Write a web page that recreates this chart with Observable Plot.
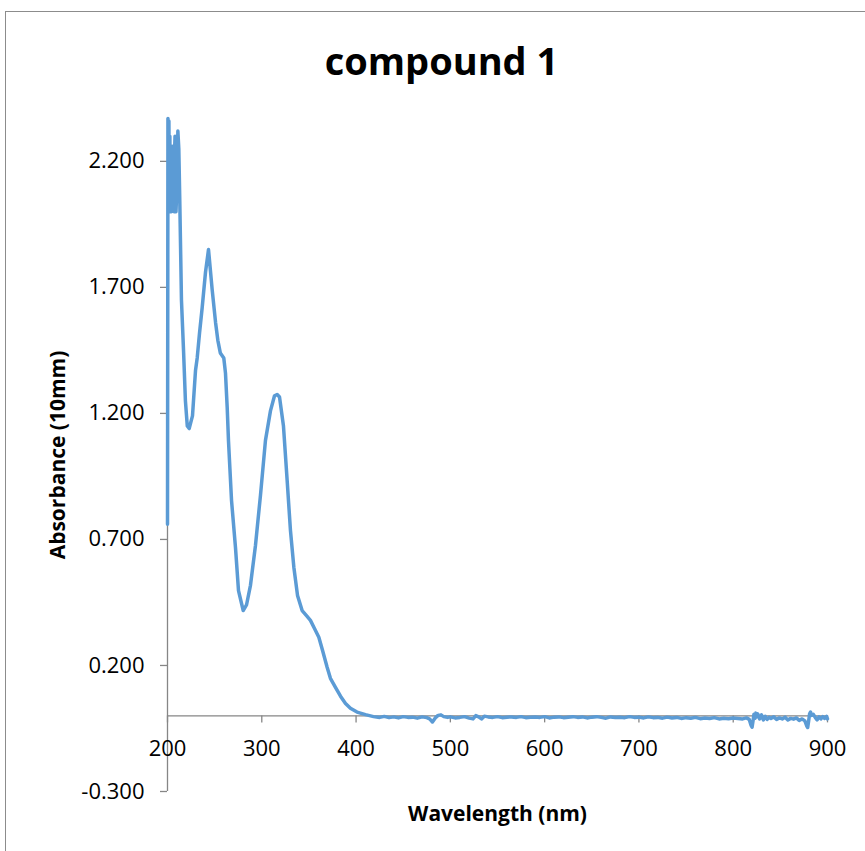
<!DOCTYPE html>
<html>
<head>
<meta charset="utf-8">
<script src="https://cdn.jsdelivr.net/npm/d3@7"></script>
<script src="https://cdn.jsdelivr.net/npm/@observablehq/plot@0.6"></script>
<style>
  html, body { margin: 0; padding: 0; background: #fff; overflow: hidden; }
  #wrap { position: relative; width: 865px; height: 851px; overflow: hidden; font-family: "Open Sans", sans-serif; }
  #frame { position: absolute; left: 5px; top: 11px; width: 900px; height: 900px; border: 1px solid #8c8c8c; box-sizing: border-box; }
  #title { position: absolute; top: 37px; left: 0; width: 883px; text-align: center; font: bold 38px "Open Sans", sans-serif; line-height: 46px; color: #000; }
  #chart { position: absolute; left: 0; top: 100px; }
</style>
</head>
<body>
<div id="wrap">
  <div id="frame"></div>
  <div id="title">compound 1</div>
  <div id="chart"></div>
</div>
<script>
const title = "compound 1";
const xLabel = "Wavelength (nm)";
const yLabel = "Absorbance (10mm)";
const xTicks = [200, 300, 400, 500, 600, 700, 800, 900];
const yTicks = [-0.3, 0.2, 0.7, 1.2, 1.7, 2.2];

const wavelength = [
  200, 200.5, 201, 201.5, 202, 202.5, 203, 203.5, 204, 204.5, 205, 205.5, 206, 206.5, 207, 207.5, 208, 208.5, 209, 210, 211, 212, 213,
  214.8, 217, 219, 221, 223, 226.5, 229.7, 231.5, 234, 236.8, 240.3, 243.5, 247.4, 251, 253.4, 256, 259.7, 261.5, 263.3, 264.7,
  267.9, 272.1, 275.3, 280.3, 283.8, 288, 293.3, 298.6, 303.9, 309.2, 313.5, 316.3, 318.8, 323, 326.9, 330.4, 334, 337.9, 342.8,
  347.4, 351.6, 355.9, 360.5, 364.4, 369.3, 372.8, 378, 383.5, 388.8, 394, 401, 410, 418.5,
  425, 430, 435, 440, 445, 450, 455, 460, 465, 470, 475, 478, 481, 484, 487, 490, 493, 497, 500, 505, 510, 515, 520, 524, 527, 530,
  533, 536, 540, 545, 550, 555, 560, 565, 570, 575, 580, 585, 590, 595, 600, 605, 610, 615, 620, 625, 630, 635, 640, 645, 650, 655,
  660, 665, 670, 675, 680, 685, 690, 695, 700, 705, 710, 715, 720, 725, 730, 735, 740, 745, 750, 755, 760, 765, 770, 775, 780, 785,
  790, 795, 800, 805, 810, 814, 817, 819, 820, 821, 822, 823, 824, 825, 826, 828, 830, 832, 834, 836, 838, 840, 843, 846, 849, 852,
  855, 858, 861, 864, 867, 870, 873, 876, 878, 879, 880, 881, 882, 883, 885, 887, 889, 891, 893, 895, 897, 899, 900
];
const absorbance = [
  0.76, 2.37, 2.10, 2.36, 2.00, 2.30, 2.05, 2.25, 2.00, 2.22, 2.26, 2.02, 2.24, 2.25, 2.00, 2.24, 2.30, 2.05, 2.00, 2.10, 2.32, 2.25, 2.05,
  1.65, 1.45, 1.25, 1.15, 1.14, 1.19, 1.37, 1.42, 1.52, 1.62, 1.76, 1.85, 1.69, 1.56, 1.49, 1.44, 1.42, 1.36, 1.225, 1.09,
  0.855, 0.668, 0.497, 0.418, 0.44, 0.518, 0.676, 0.875, 1.093, 1.21, 1.27, 1.275, 1.265, 1.15, 0.934, 0.736, 0.59, 0.478, 0.418,
  0.398, 0.379, 0.347, 0.312, 0.26, 0.193, 0.149, 0.114, 0.078, 0.049, 0.03, 0.015, 0.005, -0.003,
  -0.006, -0.002, -0.007, -0.004, -0.008, -0.003, -0.006, -0.005, -0.009, -0.004, -0.007, -0.012, -0.024, -0.008, 0.002, 0.004, -0.003, -0.006, -0.004, -0.008, -0.006, -0.003, -0.009, -0.012, 0.001, -0.004,
  -0.012, -0.001, -0.004, -0.006, -0.003, -0.007, -0.005, -0.004, -0.006, -0.003, -0.007, -0.005, -0.004, -0.006, -0.003, -0.008, -0.005, -0.004, -0.007, -0.005, -0.003, -0.006, -0.004, -0.008, -0.005, -0.003,
  -0.006, -0.009, -0.004, -0.006, -0.005, -0.007, -0.003, -0.006, -0.005, -0.008, -0.004, -0.007, -0.006, -0.009, -0.005, -0.008, -0.006, -0.010, -0.007, -0.009, -0.006, -0.011, -0.008, -0.010, -0.007, -0.012,
  -0.009, -0.011, -0.008, -0.010, -0.012, -0.008, -0.014, -0.038, -0.045, -0.020, 0.006, -0.010, 0.011, -0.004, 0.008, -0.012, 0.004, -0.016, -0.002, -0.014, -0.006, -0.010, -0.004, -0.014, -0.008, -0.012,
  -0.005, -0.016, -0.010, -0.013, -0.008, -0.018, -0.012, -0.020, -0.040, -0.046, -0.020, 0.008, 0.015, 0.002, 0.006, -0.006, -0.016, -0.004, -0.012, -0.003, -0.010, -0.002, -0.012
];

const data = wavelength.map((w, i) => ({w, a: absorbance[i]}));
const axisColor = "#868686";
const lineColor = "#5B9BD5";

const chart = Plot.plot({
  width: 865,
  height: 751,
  marginTop: 18,
  marginBottom: 60,
  marginLeft: 167,
  marginRight: 38,
  style: {fontFamily: "'Open Sans', sans-serif", background: "transparent", color: "#000"},
  x: {domain: [200, 900], axis: null},
  y: {domain: [-0.3, 2.37], axis: null},
  marks: [
    Plot.ruleX([200], {stroke: axisColor, strokeWidth: 1.3}),
    Plot.ruleY([0], {stroke: axisColor, strokeWidth: 1.3}),
    Plot.ruleY(yTicks, {y: d => d, x1: 200, x2: 200, insetLeft: -7, stroke: axisColor, strokeWidth: 1.3}),
    Plot.ruleX(xTicks, {x: d => d, y1: 0, y2: 0, insetBottom: -7, stroke: axisColor, strokeWidth: 1.3}),
    Plot.text(yTicks, {y: d => d, frameAnchor: "left", dx: -23, textAnchor: "end", text: d => d.toFixed(3), fontSize: 22, fill: "#000"}),
    Plot.text(xTicks, {x: d => d, y: 0, dy: 33, text: d => String(d), fontSize: 22, fill: "#000"}),
    Plot.line(data, {x: "w", y: "a", stroke: lineColor, strokeWidth: 3.5, strokeLinejoin: "round", strokeLinecap: "round"}),
    Plot.text([xLabel], {frameAnchor: "bottom", dy: 29, text: d => d, fontSize: 21, fontWeight: "bold", fill: "#000"}),
    Plot.text([yLabel], {frameAnchor: "left", dx: -109, rotate: -90, textAnchor: "middle", lineAnchor: "middle", text: d => d, fontSize: 21, fontWeight: "bold", fill: "#000"})
  ]
});
document.getElementById("chart").appendChild(chart);
</script>
</body>
</html>
